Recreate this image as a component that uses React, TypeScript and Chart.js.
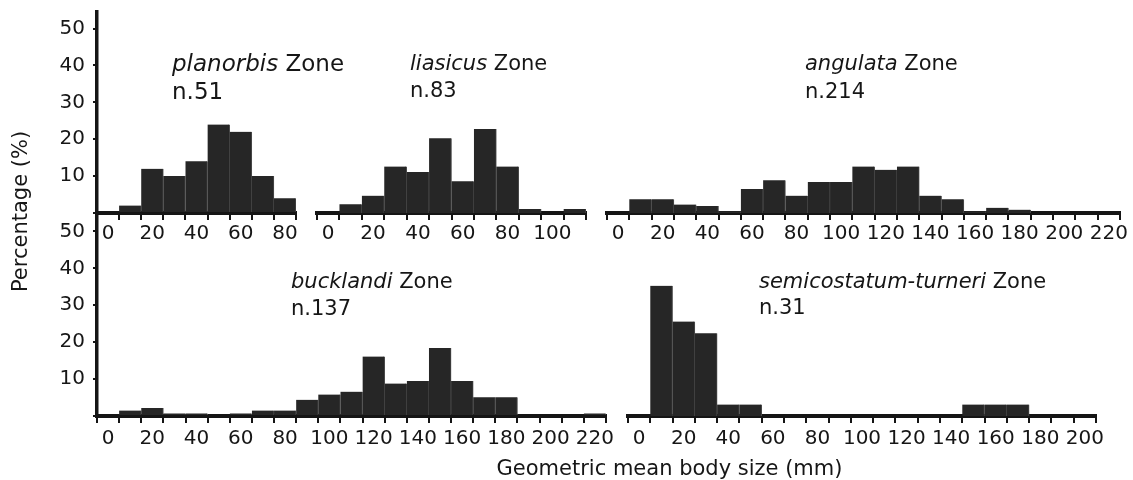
import React, { useEffect, useRef } from 'react';
import { Chart, registerables } from 'chart.js';

Chart.register(...registerables);

const FONT = '"DejaVu Sans", "Liberation Sans", Arial, sans-serif';
const INK = '#151515';
const TEXT = '#161616';
const BAR = '#262626';
const SEAM = '#4a4a4a';

// Bin labels (geometric mean body size, mm; 10 mm bins)
const binsTo80 = ['0', '10', '20', '30', '40', '50', '60', '70', '80'];
const binsTo110 = ['0', '10', '20', '30', '40', '50', '60', '70', '80', '90', '100', '110'];
const binsTo200 = ['0', '10', '20', '30', '40', '50', '60', '70', '80', '90', '100', '110', '120', '130', '140', '150', '160', '170', '180', '190', '200'];
const binsTo220 = ['0', '10', '20', '30', '40', '50', '60', '70', '80', '90', '100', '110', '120', '130', '140', '150', '160', '170', '180', '190', '200', '210', '220'];

// Percentages per bin
const planorbis = [0, 2, 12, 10, 14, 24, 22, 10, 4];
const liasicus = [0, 2.4, 4.7, 12.6, 11.1, 20.3, 8.6, 22.8, 12.6, 1.1, 0, 1.1];
const angulata = [0, 3.7, 3.7, 2.3, 1.9, 0.5, 6.5, 8.9, 4.7, 8.4, 8.4, 12.6, 11.7, 12.6, 4.7, 3.7, 0.5, 1.4, 0.9, 0, 0, 0, 0];
const bucklandi = [0, 1.5, 2.2, 0.7, 0.7, 0, 0.7, 1.5, 1.5, 4.4, 5.8, 6.6, 16.1, 8.8, 9.5, 18.4, 9.5, 5.1, 5.1, 0, 0, 0, 0.7];
const semicostatumTurneri = [0, 35.3, 25.6, 22.4, 3.1, 3.1, 0, 0, 0, 0, 0, 0, 0, 0, 0, 3.1, 3.1, 3.1, 0, 0, 0];

const yTickValues = [0, 10, 20, 30, 40, 50];

const yTitle = 'Percentage (%)';
const xTitle = 'Geometric mean body size (mm)';

type Part = [string, boolean];
type TextItem = { x: number; y: number; size: number; parts: Part[]; rotate?: boolean; center?: boolean };

function makeTextPlugin(items: TextItem[]) {
  return {
    id: 'figureText',
    afterDraw(chart: any) {
      const ctx = chart.ctx as CanvasRenderingContext2D;
      for (const item of items) {
        ctx.save();
        ctx.fillStyle = TEXT;
        ctx.textBaseline = 'alphabetic';
        if (item.rotate) {
          ctx.translate(item.x, item.y);
          ctx.rotate(-Math.PI / 2);
          ctx.textAlign = 'center';
          ctx.font = `${item.size}px ${FONT}`;
          ctx.fillText(item.parts[0][0], 0, 0);
        } else {
          ctx.textAlign = 'left';
          let total = 0;
          for (const [t, it] of item.parts) {
            ctx.font = `${it ? 'italic ' : ''}${item.size}px ${FONT}`;
            total += ctx.measureText(t).width;
          }
          let x = item.center ? item.x - total / 2 : item.x;
          for (const [t, it] of item.parts) {
            ctx.font = `${it ? 'italic ' : ''}${item.size}px ${FONT}`;
            ctx.fillText(t, x, item.y);
            x += ctx.measureText(t).width;
          }
        }
        ctx.restore();
      }
    },
  };
}

type Panel = {
  labels: string[];
  values: number[];
  padding: { left: number; top: number; right: number; bottom: number };
  showY: boolean;
  yMax: number;
  xPad: number;
  texts: TextItem[];
};

const panels: Panel[] = [
  {
    labels: binsTo80,
    values: planorbis,
    padding: { left: 0, top: 12, right: 837, bottom: 227 },
    showY: true,
    yMax: 54.5,
    xPad: 2,
    texts: [
      { x: 172, y: 70.5, size: 23, parts: [['planorbis', true], [' Zone', false]] },
      { x: 172, y: 98.5, size: 23, parts: [['n.51', false]] },
      { x: 27, y: 211.5, size: 21, parts: [[yTitle, false]], rotate: true },
      { x: 669.5, y: 475, size: 21, parts: [[xTitle, false]], center: true },
    ],
  },
  {
    labels: binsTo110,
    values: liasicus,
    padding: { left: 317, top: 12, right: 547, bottom: 227 },
    showY: false,
    yMax: 54.5,
    xPad: 2,
    texts: [
      { x: 410, y: 69.5, size: 21, parts: [['liasicus', true], [' Zone', false]] },
      { x: 410, y: 97, size: 21, parts: [['n.83', false]] },
    ],
  },
  {
    labels: binsTo220,
    values: angulata,
    padding: { left: 607, top: 12, right: 13, bottom: 227 },
    showY: false,
    yMax: 54.5,
    xPad: 2,
    texts: [
      { x: 805, y: 70, size: 21, parts: [['angulata', true], [' Zone', false]] },
      { x: 805, y: 97.5, size: 21, parts: [['n.214', false]] },
    ],
  },
  {
    labels: binsTo220,
    values: bucklandi,
    padding: { left: 0, top: 213, right: 527, bottom: 24 },
    showY: true,
    yMax: 55,
    xPad: 4,
    texts: [
      { x: 291, y: 288, size: 21, parts: [['bucklandi', true], [' Zone', false]] },
      { x: 291, y: 315, size: 21, parts: [['n.137', false]] },
    ],
  },
  {
    labels: binsTo200,
    values: semicostatumTurneri,
    padding: { left: 628, top: 213, right: 37, bottom: 24 },
    showY: false,
    yMax: 55,
    xPad: 4,
    texts: [
      { x: 759, y: 288, size: 21, parts: [['semicostatum-turneri', true], [' Zone', false]] },
      { x: 759, y: 313.5, size: 21, parts: [['n.31', false]] },
    ],
  },
];

function makeConfig(p: Panel): any {
  return {
    type: 'bar',
    data: {
      labels: p.labels,
      datasets: [
        {
          data: p.values,
          backgroundColor: BAR,
          borderColor: SEAM,
          borderWidth: { top: 0, left: 0, bottom: 0, right: 1 },
          barPercentage: 1,
          categoryPercentage: 1,
        },
      ],
    },
    options: {
      responsive: false,
      animation: false,
      devicePixelRatio: 1,
      events: [],
      layout: { padding: p.padding },
      plugins: { legend: { display: false }, tooltip: { enabled: false }, title: { display: false } },
      scales: {
        x: {
          type: 'category',
          offset: true,
          grid: { offset: true, drawOnChartArea: false, drawTicks: true, tickLength: 7, color: INK, lineWidth: 2 },
          border: { display: true, color: INK, width: 4 },
          ticks: {
            autoSkip: false,
            maxRotation: 0,
            minRotation: 0,
            padding: p.xPad,
            color: TEXT,
            font: { family: FONT, size: 20 },
            callback: function (this: any, v: any, i: number) {
              return i % 2 === 0 ? this.getLabelForValue(v) : '';
            },
          },
          afterFit: (s: any) => {
            s.height = 40;
            s.paddingLeft = 0;
            s.paddingRight = 0;
          },
        },
        y: {
          display: p.showY,
          min: 0,
          max: p.yMax,
          afterBuildTicks: (s: any) => {
            s.ticks = yTickValues.map((v) => ({ value: v }));
          },
          grid: { drawOnChartArea: false, drawTicks: true, tickLength: 4, color: INK, lineWidth: 2 },
          border: { display: true, color: INK, width: 3.5 },
          ticks: {
            padding: 8,
            color: TEXT,
            font: { family: FONT, size: 20 },
            callback: (v: any) => (v === 0 ? '' : String(v)),
          },
          afterFit: (s: any) => {
            s.width = p.showY ? 97 : 0;
            s.paddingTop = 0;
            s.paddingBottom = 0;
          },
        },
      },
    },
    plugins: [makeTextPlugin(p.texts)],
  };
}

export default function App() {
  const refs = useRef<(HTMLCanvasElement | null)[]>([]);

  useEffect(() => {
    const charts = panels.map((p, i) => new Chart(refs.current[i] as HTMLCanvasElement, makeConfig(p)));
    return () => charts.forEach((c) => c.destroy());
  }, []);

  return (
    <div style={{ position: 'absolute', left: 0, top: 0, width: 1133, height: 480, background: '#fff' }}>
      {panels.map((_, i) => (
        <canvas
          key={i}
          ref={(el) => {
            refs.current[i] = el;
          }}
          width={1133}
          height={480}
          style={{ position: 'absolute', left: 0, top: 0, width: 1133, height: 480 }}
        />
      ))}
    </div>
  );
}
